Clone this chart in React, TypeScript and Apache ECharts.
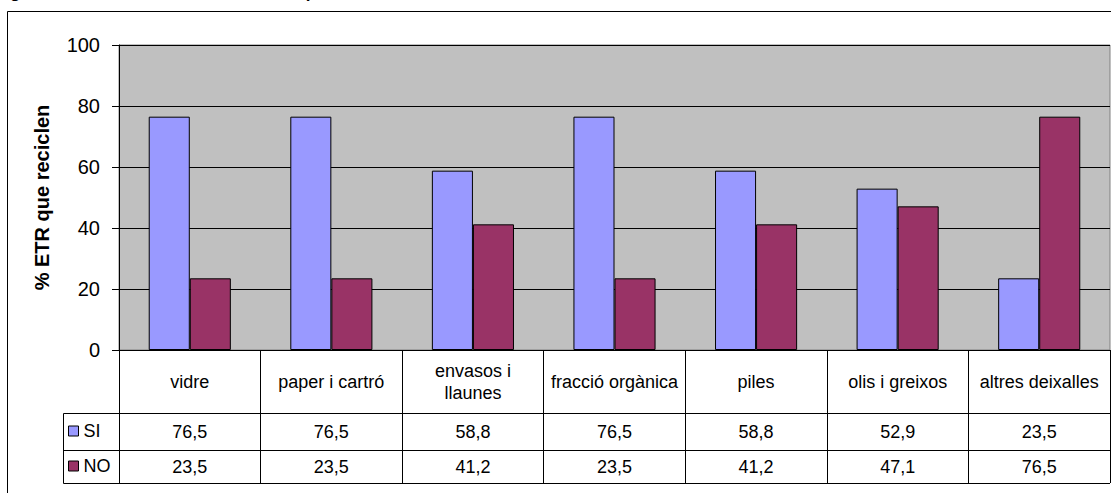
import React, { useEffect, useRef } from "react";
import * as echarts from "echarts";

const categories = [
  "vidre",
  "paper i cartró",
  "envasos i\nllaunes",
  "fracció orgànica",
  "piles",
  "olis i greixos",
  "altres deixalles",
];
const seriesNames = ["SI", "NO"];
const siValues = [76.5, 76.5, 58.8, 76.5, 58.8, 52.9, 23.5];
const noValues = [23.5, 23.5, 41.2, 23.5, 41.2, 47.1, 76.5];
const yTicks = { min: 0, max: 100, interval: 20 };
const titleText = "gràfic 5. Residus reciclats a les ETR per residu";
const yAxisTitle = "% ETR que reciclen";

const FONT = "'Liberation Sans', Arial, sans-serif";
const fmt = (v: number) => v.toFixed(1).replace(".", ",");

export default function App() {
  const ref = useRef<HTMLDivElement>(null);
  useEffect(() => {
    document.body.style.margin = "0";
    const chart = echarts.init(ref.current!, null, { renderer: "svg" });
    const gl = 119, gt = 45, gb = 350, gr = 1110;
    const row1 = 413, row2 = 450, row3 = 483;
    const legLeft = 63;
    chart.setOption({
      animation: false,
      textStyle: { fontFamily: FONT, color: "#000" },
      grid: {
        left: gl,
        top: gt,
        right: 1111 - gr,
        bottom: 493 - gb,
        show: true,
        backgroundColor: "#C0C0C0",
        borderColor: "#808080",
        borderWidth: 1,
      },
      legend: {
        orient: "vertical",
        left: 68,
        top: 422,
        padding: 0,
        itemWidth: 10,
        itemHeight: 10,
        itemGap: 17,
        icon: "rect",
        itemStyle: { borderColor: "#000", borderWidth: 1 },
        textStyle: { fontSize: 18, fontFamily: FONT, color: "#000", lineHeight: 18 },
        data: seriesNames,
      },
      xAxis: [
        {
          type: "category",
          data: categories,
          position: "bottom",
          axisLine: { show: true, lineStyle: { color: "#000", width: 1 } },
          axisTick: { show: true, length: row3 - gb, lineStyle: { color: "#000", width: 1 } },
          axisLabel: {
            interval: 0,
            fontSize: 18,
            color: "#000",
            fontFamily: FONT,
            lineHeight: 22,
            verticalAlign: "middle",
            margin: (row1 - gb) / 2,
          },
        },
        {
          type: "category",
          data: categories,
          position: "bottom",
          offset: row1 - gb,
          axisLine: { show: true, lineStyle: { color: "#000", width: 1 } },
          axisTick: { show: false },
          axisLabel: {
            interval: 0,
            fontSize: 18,
            color: "#000",
            fontFamily: FONT,
            verticalAlign: "middle",
            margin: (row2 - row1) / 2,
            formatter: (_v: string, i: number) => fmt(siValues[i]),
          },
        },
        {
          type: "category",
          data: categories,
          position: "bottom",
          offset: row2 - gb,
          axisLine: { show: true, lineStyle: { color: "#000", width: 1 } },
          axisTick: { show: false },
          axisLabel: {
            interval: 0,
            fontSize: 18,
            color: "#000",
            fontFamily: FONT,
            verticalAlign: "middle",
            margin: (row3 - row2) / 2,
            formatter: (_v: string, i: number) => fmt(noValues[i]),
          },
        },
      ],
      yAxis: {
        type: "value",
        min: yTicks.min,
        max: yTicks.max,
        interval: yTicks.interval,
        name: yAxisTitle,
        nameLocation: "middle",
        nameGap: 67,
        nameTextStyle: { fontSize: 20, fontWeight: "bold", color: "#000", fontFamily: FONT },
        axisLine: { show: true, lineStyle: { color: "#000", width: 1 } },
        axisTick: { show: true, length: 7, lineStyle: { color: "#000" } },
        axisLabel: { fontSize: 20, color: "#000", margin: 19, fontFamily: FONT },
        splitLine: { show: true, lineStyle: { color: "#000", width: 1 } },
      },
      series: [
        {
          name: seriesNames[0],
          type: "bar",
          data: siValues,
          xAxisIndex: 0,
          barGap: "0%",
          barCategoryGap: "42%",
          itemStyle: { color: "#9999FF", borderColor: "#000", borderWidth: 1 },
        },
        {
          name: seriesNames[1],
          type: "bar",
          data: noValues,
          xAxisIndex: 0,
          barGap: "0%",
          barCategoryGap: "42%",
          itemStyle: { color: "#993366", borderColor: "#000", borderWidth: 1 },
        },
      ],
      graphic: [
        {
          type: "text",
          x: 10,
          y: 1,
          style: {
            text: titleText,
            font: `bold 17px ${FONT}`,
            fill: "#000",
            verticalAlign: "bottom",
          },
        },
        {
          type: "polyline",
          shape: { points: [[7.5, 493], [7.5, 11.5], [1111, 11.5]] },
          style: { stroke: "#000", lineWidth: 1, fill: null },
        },
        {
          type: "polyline",
          shape: { points: [[gl, row1 + 0.5], [legLeft + 0.5, row1 + 0.5], [legLeft + 0.5, row3 + 0.5], [gr, row3 + 0.5]] },
          style: { stroke: "#000", lineWidth: 1, fill: null },
        },
        {
          type: "line",
          shape: { x1: legLeft, y1: row2 + 0.5, x2: gl, y2: row2 + 0.5 },
          style: { stroke: "#000", lineWidth: 1 },
        },
      ],
    });
    return () => chart.dispose();
  }, []);
  return <div ref={ref} style={{ width: 1111, height: 493 }} />;
}
